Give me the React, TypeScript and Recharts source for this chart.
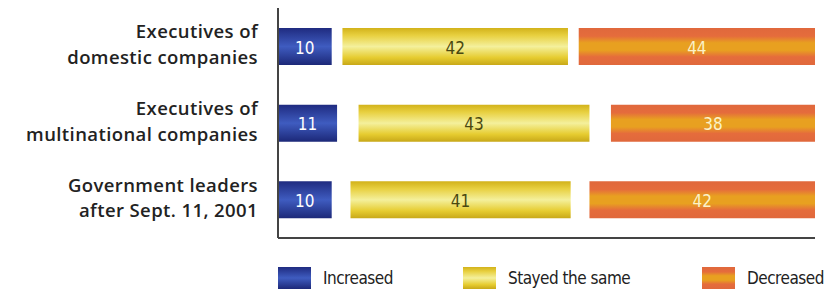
import { BarChart, Bar, XAxis, YAxis, Legend, LabelList } from "recharts";

// Survey: change in trust, percent of respondents
const categories = [
  "Executives of\ndomestic companies",
  "Executives of\nmultinational companies",
  "Government leaders\nafter Sept. 11, 2001",
];
const increased = [10, 11, 10];
const stayedSame = [42, 43, 41];
const decreased = [44, 38, 42];

const seriesNames = ["Increased", "Stayed the same", "Decreased"];

// the rest up to 100 is left blank and splits the segments apart
const data = categories.map((name, i) => {
  const rest = 100 - increased[i] - stayedSame[i] - decreased[i];
  return {
    name,
    increased: increased[i],
    gapA: rest / 2,
    stayed: stayedSame[i],
    gapB: rest / 2,
    decreased: decreased[i],
  };
});

const labelFont = "'DejaVu Sans Condensed', 'Liberation Sans Narrow', sans-serif";

const blueCss = "linear-gradient(#1f2b80, #3f5cc0 50%, #1c2878)";
const yellowCss = "linear-gradient(#d2b21a, #e8d040 20%, #f4f09c 50%, #e6cc30 80%, #c8a818)";
const orangeCss =
  "linear-gradient(#e0683c, #e56c3c 22%, #e8a020 40%, #e8a020 60%, #e56c3c 78%, #e0683c)";

function CategoryTick({ x, y, payload }: any) {
  const lines = String(payload.value).split("\n");
  const common = {
    x: x - 12,
    textAnchor: "end" as const,
    fill: "#222",
    fontSize: 18.5,
    letterSpacing: 0.4,
    fontFamily: "'Open Sans', sans-serif",
    fontWeight: 600,
  };
  return (
    <g>
      <text {...common} y={y - 8}>{lines[0]}</text>
      <text {...common} y={y + 17.5}>{lines[1]}</text>
    </g>
  );
}

function makeLabel(color: string) {
  return (props: any) => {
    const { x, y, width, height, value } = props;
    return (
      <text
        x={x + width / 2}
        y={y + height / 2 + 1}
        textAnchor="middle"
        dominantBaseline="central"
        fill={color}
        fontSize={17}
        fontFamily={labelFont}
      >
        {value}
      </text>
    );
  };
}

function LegendBox() {
  const items = [
    { label: seriesNames[0], bg: blueCss, left: 278 },
    { label: seriesNames[1], bg: yellowCss, left: 463 },
    { label: seriesNames[2], bg: orangeCss, left: 702 },
  ];
  return (
    <div style={{ position: "relative", width: 839, height: 32 }}>
      {items.map((it) => (
        <div
          key={it.label}
          style={{ position: "absolute", left: it.left, top: 5, display: "flex", alignItems: "center" }}
        >
          <div style={{ width: 33, height: 22, background: it.bg }} />
          <span
            style={{
              marginLeft: 12,
              fontFamily: labelFont,
              fontSize: 17,
              color: "#222",
              letterSpacing: -0.5,
            }}
          >
            {it.label}
          </span>
        </div>
      ))}
    </div>
  );
}

export default function App() {
  return (
    <div style={{ position: "absolute", left: 0, top: 0, background: "#fff" }}>
      <BarChart
        width={839}
        height={294}
        data={data}
        layout="vertical"
        margin={{ top: 8, right: 24, left: 0, bottom: 23 }}
        barSize={37}
      >
        <defs>
          <linearGradient id="gBlue" x1="0" y1="0" x2="0" y2="1">
            <stop offset="0" stopColor="#1f2b80" />
            <stop offset="0.5" stopColor="#3f5cc0" />
            <stop offset="1" stopColor="#1c2878" />
          </linearGradient>
          <linearGradient id="gYellow" x1="0" y1="0" x2="0" y2="1">
            <stop offset="0" stopColor="#d2b21a" />
            <stop offset="0.2" stopColor="#e8d040" />
            <stop offset="0.5" stopColor="#f4f09c" />
            <stop offset="0.8" stopColor="#e6cc30" />
            <stop offset="1" stopColor="#c8a818" />
          </linearGradient>
          <linearGradient id="gOrange" x1="0" y1="0" x2="0" y2="1">
            <stop offset="0" stopColor="#e0683c" />
            <stop offset="0.22" stopColor="#e56c3c" />
            <stop offset="0.4" stopColor="#e8a020" />
            <stop offset="0.6" stopColor="#e8a020" />
            <stop offset="0.78" stopColor="#e56c3c" />
            <stop offset="1" stopColor="#e0683c" />
          </linearGradient>
        </defs>
        <XAxis
          type="number"
          domain={[0, 100]}
          height={1}
          tick={false}
          tickLine={false}
          axisLine={{ stroke: "#444", strokeWidth: 2 }}
        />
        <YAxis
          type="category"
          dataKey="name"
          width={278}
          tickLine={false}
          axisLine={{ stroke: "#444", strokeWidth: 2 }}
          tick={<CategoryTick />}
        />
        <Legend height={32} wrapperStyle={{ bottom: 0, left: 0 }} content={() => <LegendBox />} />
        <Bar dataKey="increased" name={seriesNames[0]} stackId="a" fill="url(#gBlue)" isAnimationActive={false}>
          <LabelList dataKey="increased" content={makeLabel("#fff")} />
        </Bar>
        <Bar dataKey="gapA" stackId="a" fill="transparent" legendType="none" isAnimationActive={false} />
        <Bar dataKey="stayed" name={seriesNames[1]} stackId="a" fill="url(#gYellow)" isAnimationActive={false}>
          <LabelList dataKey="stayed" content={makeLabel("#4a4810")} />
        </Bar>
        <Bar dataKey="gapB" stackId="a" fill="transparent" legendType="none" isAnimationActive={false} />
        <Bar dataKey="decreased" name={seriesNames[2]} stackId="a" fill="url(#gOrange)" isAnimationActive={false}>
          <LabelList dataKey="decreased" content={makeLabel("#fbf2c8")} />
        </Bar>
      </BarChart>
    </div>
  );
}
